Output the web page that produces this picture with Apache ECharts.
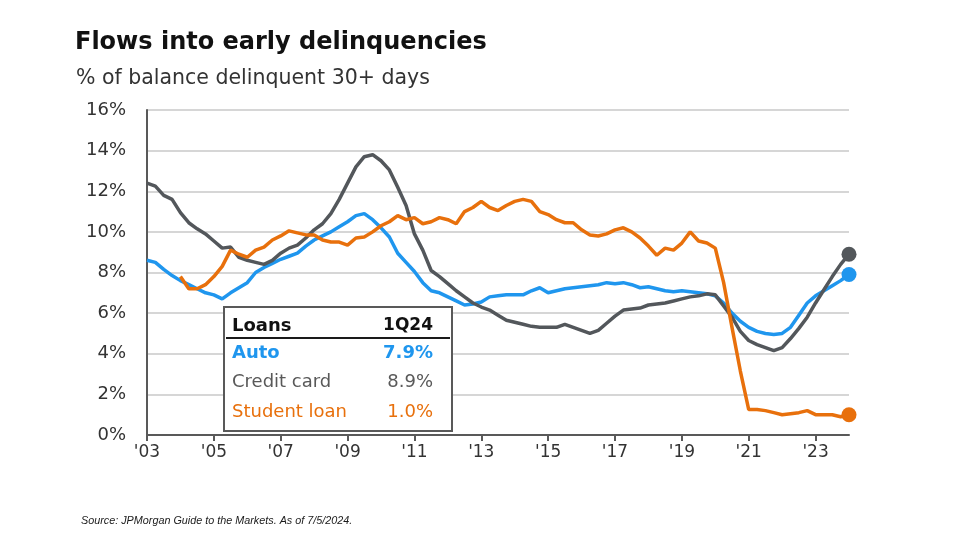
<!DOCTYPE html>
<html>
<head>
<meta charset="utf-8">
<script src="https://cdn.jsdelivr.net/npm/echarts@6/dist/echarts.min.js"></script>
<style>
html,body{margin:0;padding:0;background:#fff;}
#chart{width:960px;height:540px;}
</style>
</head>
<body>
<div id="chart"></div>
<script>
// Quarterly categories 1Q03 .. 1Q24
const firstYear = 2003;
const lastYear = 2024;
const quarters = [];
for (let y = firstYear; y <= lastYear; y++) {
  for (let q = 1; q <= 4; q++) {
    if (y === lastYear && q > 1) break;
    quarters.push(q + 'Q' + String(y).slice(2));
  }
}

// % of balance delinquent 30+ days
const autoLoans = [
  8.6, 8.5, 8.15, 7.85,
  7.6, 7.4, 7.2, 7.0,
  6.9, 6.7, 7.0, 7.25,
  7.5, 8.0, 8.25, 8.45,
  8.65, 8.8, 8.95, 9.3,
  9.6, 9.8, 10.0, 10.25,
  10.5, 10.8, 10.9, 10.6,
  10.2, 9.75, 8.95, 8.5,
  8.05, 7.5, 7.1, 7.0,
  6.8, 6.6, 6.4, 6.45,
  6.55, 6.8, 6.85, 6.9,
  6.9, 6.9, 7.1, 7.25,
  7.0, 7.1, 7.2, 7.25,
  7.3, 7.35, 7.4, 7.5,
  7.45, 7.5, 7.4, 7.25,
  7.3, 7.2, 7.1, 7.05,
  7.1, 7.05, 7.0, 6.95,
  6.85, 6.5, 6.0, 5.6,
  5.3, 5.1, 5.0, 4.95,
  5.0, 5.3, 5.9, 6.5,
  6.85, 7.1, 7.35, 7.6,
  7.9
];
const creditCard = [
  12.4, 12.25, 11.8, 11.6,
  10.95, 10.45, 10.15, 9.9,
  9.55, 9.2, 9.25, 8.75,
  8.6, 8.5, 8.4, 8.6,
  8.95, 9.2, 9.35, 9.7,
  10.1, 10.4, 10.9, 11.6,
  12.4, 13.2, 13.7, 13.8,
  13.5, 13.05, 12.2, 11.3,
  9.9, 9.1, 8.1, 7.8,
  7.45, 7.1, 6.8, 6.5,
  6.3, 6.15, 5.9, 5.65,
  5.55, 5.45, 5.35, 5.3,
  5.3, 5.3, 5.45, 5.3,
  5.15, 5.0, 5.15, 5.5,
  5.85, 6.15, 6.2, 6.25,
  6.4, 6.45, 6.5, 6.6,
  6.7, 6.8, 6.85, 6.95,
  6.9, 6.35, 5.8, 5.1,
  4.65, 4.45, 4.3, 4.15,
  4.3, 4.75, 5.25, 5.8,
  6.5, 7.15, 7.8, 8.4,
  8.9
];
const studentLoan = [
  '-', '-', '-', '-',
  7.8, 7.2, 7.2, 7.4,
  7.8, 8.3, 9.1, 8.9,
  8.75, 9.1, 9.25, 9.6,
  9.8, 10.05, 9.95, 9.85,
  9.85, 9.6, 9.5, 9.5,
  9.35, 9.7, 9.75, 10.0,
  10.3, 10.5, 10.8, 10.6,
  10.7, 10.4, 10.5, 10.7,
  10.6, 10.4, 11.0, 11.2,
  11.5, 11.2, 11.05, 11.3,
  11.5, 11.6, 11.5, 11.0,
  10.85, 10.6, 10.45, 10.45,
  10.1, 9.85, 9.8, 9.9,
  10.1, 10.2, 10.0, 9.7,
  9.3, 8.85, 9.2, 9.1,
  9.45, 10.0, 9.55, 9.45,
  9.2, 7.5, 5.3, 3.15,
  1.25, 1.25, 1.2, 1.1,
  1.0, 1.05, 1.1, 1.2,
  1.0, 1.0, 1.0, 0.9,
  1.0
];

// Table in the chart
const tableHeader = ['Loans', '1Q24'];
const tableRows = [
  ['Auto', '7.9%'],
  ['Credit card', '8.9%'],
  ['Student loan', '1.0%']
];

const titleText = 'Flows into early delinquencies';
const subtitleText = '% of balance delinquent 30+ days';
const sourceText = 'Source: JPMorgan Guide to the Markets. As of 7/5/2024.';

const C_BLUE = '#1f96ee';
const C_GRAY = '#53575b';
const C_ORANGE = '#e8700c';
const FONT = '"DejaVu Sans", "Liberation Sans", Arial, sans-serif';

function withEndMarker(arr) {
  return arr.map(function (v, i) {
    if (i === arr.length - 1) {
      return { value: v, symbol: 'circle', symbolSize: 15 };
    }
    return v;
  });
}

const chart = echarts.init(document.getElementById('chart'), null, { renderer: 'canvas' });

const rowColors = [C_BLUE, '#595959', C_ORANGE];
const rowWeights = ['bold', 'normal', 'normal'];
const rowY = [353, 382, 412];

const graphics = [
  { type: 'text', left: 75, top: 31, z: 10,
    style: { text: titleText, fill: '#111111', font: 'bold 24px ' + FONT } },
  { type: 'text', left: 76, top: 68, z: 10,
    style: { text: subtitleText, fill: '#333333', font: '20.5px ' + FONT } },
  { type: 'text', left: 81, top: 515, z: 10,
    style: { text: sourceText, fill: '#1a1a1a', font: 'italic 10.8px "Liberation Sans", Arial, sans-serif' } },
  { type: 'rect', z: 20, shape: { x: 224, y: 307, width: 228, height: 124 },
    style: { fill: '#ffffff', stroke: '#595959', lineWidth: 2 } },
  { type: 'line', z: 21, shape: { x1: 226, y1: 338, x2: 450, y2: 338 },
    style: { stroke: '#1a1a1a', lineWidth: 2 } },
  { type: 'text', z: 22, x: 232, y: 326,
    style: { text: tableHeader[0], fill: '#111111', font: 'bold 18px ' + FONT, verticalAlign: 'middle', align: 'left' } },
  { type: 'text', z: 22, x: 433, y: 326,
    style: { text: tableHeader[1], fill: '#111111', font: 'bold 17px ' + FONT, verticalAlign: 'middle', align: 'right' } }
];
tableRows.forEach(function (row, i) {
  graphics.push({ type: 'text', z: 22, x: 232, y: rowY[i],
    style: { text: row[0], fill: rowColors[i], font: rowWeights[i] + ' 18px ' + FONT, verticalAlign: 'middle', align: 'left' } });
  graphics.push({ type: 'text', z: 22, x: 433, y: rowY[i],
    style: { text: row[1], fill: rowColors[i], font: rowWeights[i] + ' 18px ' + FONT, verticalAlign: 'middle', align: 'right' } });
});

const option = {
  backgroundColor: '#ffffff',
  animation: false,
  grid: { left: 147, right: 111, top: 110, bottom: 105, containLabel: false },
  xAxis: {
    type: 'category',
    data: quarters,
    boundaryGap: false,
    axisLine: { show: true, lineStyle: { color: '#595959', width: 2 } },
    axisTick: { show: true, interval: 7, length: 6, lineStyle: { color: '#595959', width: 2 } },
    axisLabel: {
      interval: 7,
      margin: 9,
      color: '#333333',
      fontSize: 17,
      fontFamily: FONT,
      formatter: function (v) { return "'" + v.slice(2); }
    },
    splitLine: { show: false }
  },
  yAxis: {
    type: 'value',
    min: 0,
    max: 16,
    interval: 2,
    axisLine: { show: true, lineStyle: { color: '#595959', width: 2 } },
    axisTick: { show: false },
    axisLabel: { formatter: '{value}%', color: '#333333', fontSize: 18, fontFamily: FONT, margin: 21 },
    splitLine: { show: true, lineStyle: { color: '#d6d6d6', width: 2 } }
  },
  series: [
    { name: 'Auto', type: 'line', data: withEndMarker(autoLoans), symbol: 'none', showSymbol: true, showAllSymbol: true,
      lineStyle: { color: C_BLUE, width: 3.5 }, itemStyle: { color: C_BLUE }, z: 3 },
    { name: 'Credit card', type: 'line', data: withEndMarker(creditCard), symbol: 'none', showSymbol: true, showAllSymbol: true,
      lineStyle: { color: C_GRAY, width: 3.5 }, itemStyle: { color: C_GRAY }, z: 4 },
    { name: 'Student loan', type: 'line', data: withEndMarker(studentLoan), symbol: 'none', showSymbol: true, showAllSymbol: true,
      lineStyle: { color: C_ORANGE, width: 3.5 }, itemStyle: { color: C_ORANGE }, z: 5 }
  ],
  graphic: graphics
};
chart.setOption(option);
</script>
</body>
</html>
